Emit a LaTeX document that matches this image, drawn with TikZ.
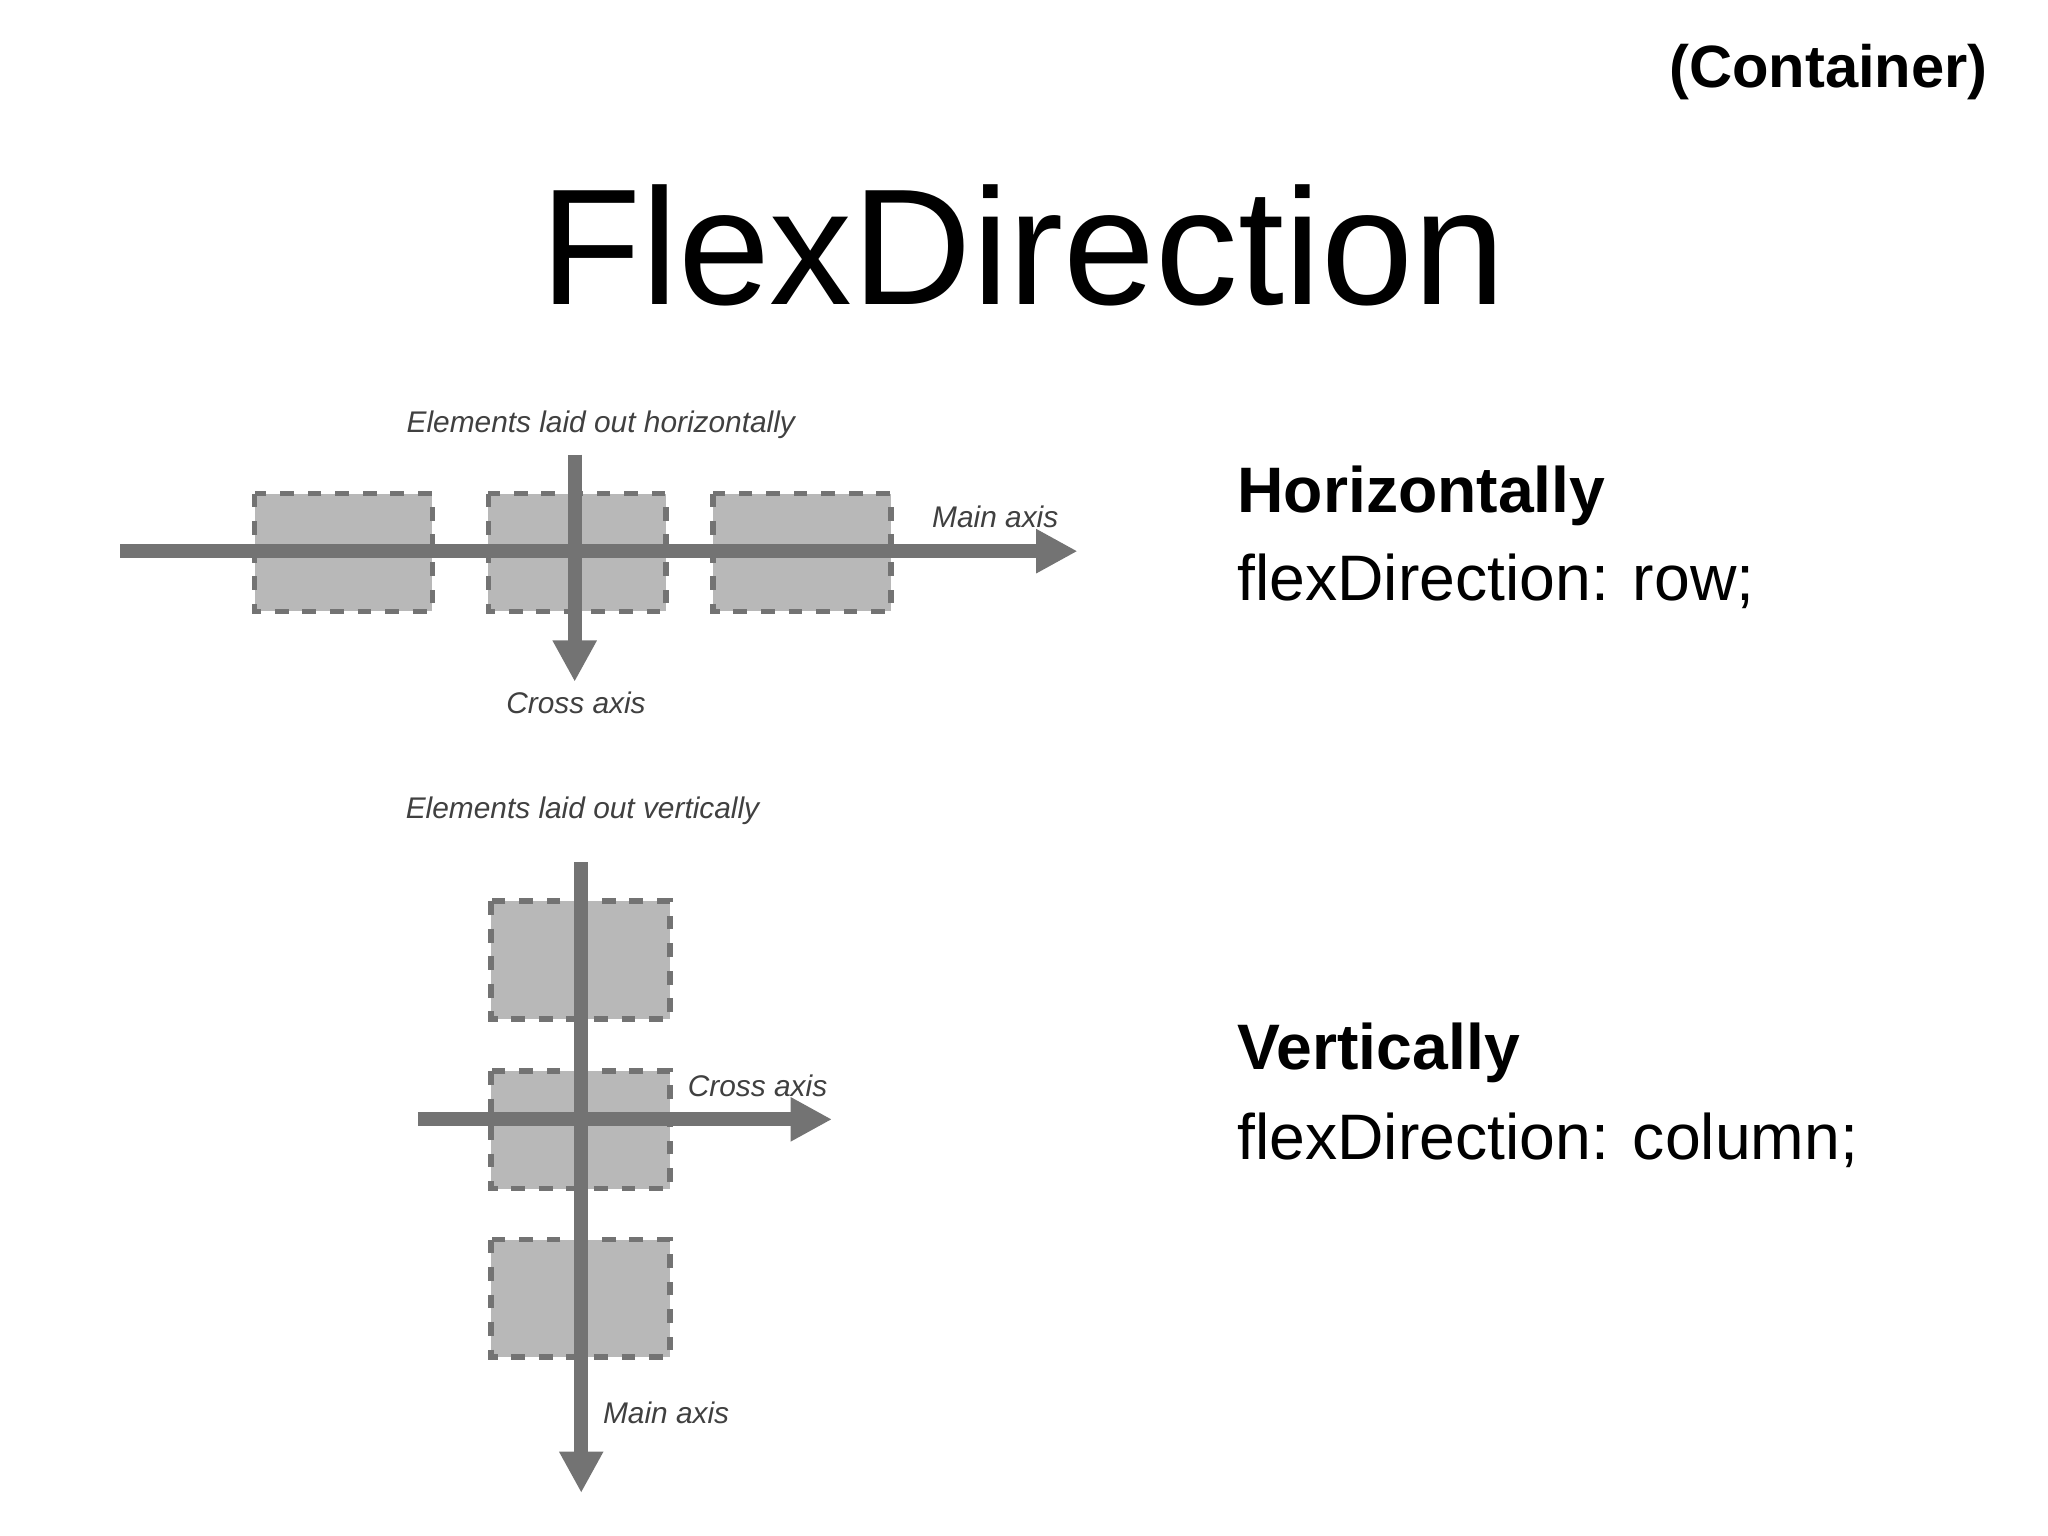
\documentclass[tikz,border=0pt]{standalone}
\usepackage{fontspec}
\setmainfont{Liberation Sans}
\usetikzlibrary{arrows.meta}
\begin{document}
\begin{tikzpicture}[x=0.01cm,y=-0.01cm,
  itembox/.style = {draw=black!55, dashed, fill=black!28, line width=1.2pt},
  axisline/.style = {draw=black!55, line width=3pt, -{Triangle[length=9pt,width=9pt]}},
  tag/.style = {font=\fontsize{6.5}{7}\selectfont\itshape, text=black!75}]
\useasboundingbox (0,0) rectangle (1568,1176);
\node (cont) at (1400,55) {\fontsize{13}{15}\selectfont\bfseries (Container)};
\node (title) at (783,188) {\fontsize{36}{40}\selectfont FlexDirection};
% row
\node[tag] (hlab) at (460,325) {Elements laid out horizontally};
\foreach \x [count=\i] in {263,442,614}
   \draw[itembox] (\x-68,378) rectangle (\x+68,468) coordinate (hb\i);
\coordinate (hs) at (92,422);
\coordinate (he) at (825,422);
\draw[axisline] (hs) -- (he);
\coordinate (hcs) at (440,348);
\coordinate (hce) at (440,522);
\draw[axisline] (hcs) -- (hce);
\node[tag] (hmain) at (762,396) {Main axis};
\node[tag] (hcross) at (441,538) {Cross axis};
\node[anchor=west] (hor) at (935,380) {\fontsize{14}{16}\selectfont\bfseries Horizontally};
\node[anchor=west] (horc) at (935,445) {\fontsize{14}{16}\selectfont flexDirection: row;};
% column
\node[tag] (vlab) at (446,621) {Elements laid out vertically};
\foreach \y [count=\i] in {735,865,994}
   \draw[itembox] (376,\y-45) rectangle (513,\y+45) coordinate (vb\i);
\coordinate (vs) at (445,660);
\coordinate (ve) at (445,1143);
\draw[axisline] (vs) -- (ve);
\coordinate (vcs) at (320,857);
\coordinate (vce) at (637,857);
\draw[axisline] (vcs) -- (vce);
\node[tag] (vmain) at (510,1082) {Main axis};
\node[tag] (vcross) at (580,831) {Cross axis};
\node[anchor=west] (ver) at (935,806) {\fontsize{14}{16}\selectfont\bfseries Vertically};
\node[anchor=west] (verc) at (935,873) {\fontsize{14}{16}\selectfont flexDirection: column;};
\end{tikzpicture}
\end{document}
